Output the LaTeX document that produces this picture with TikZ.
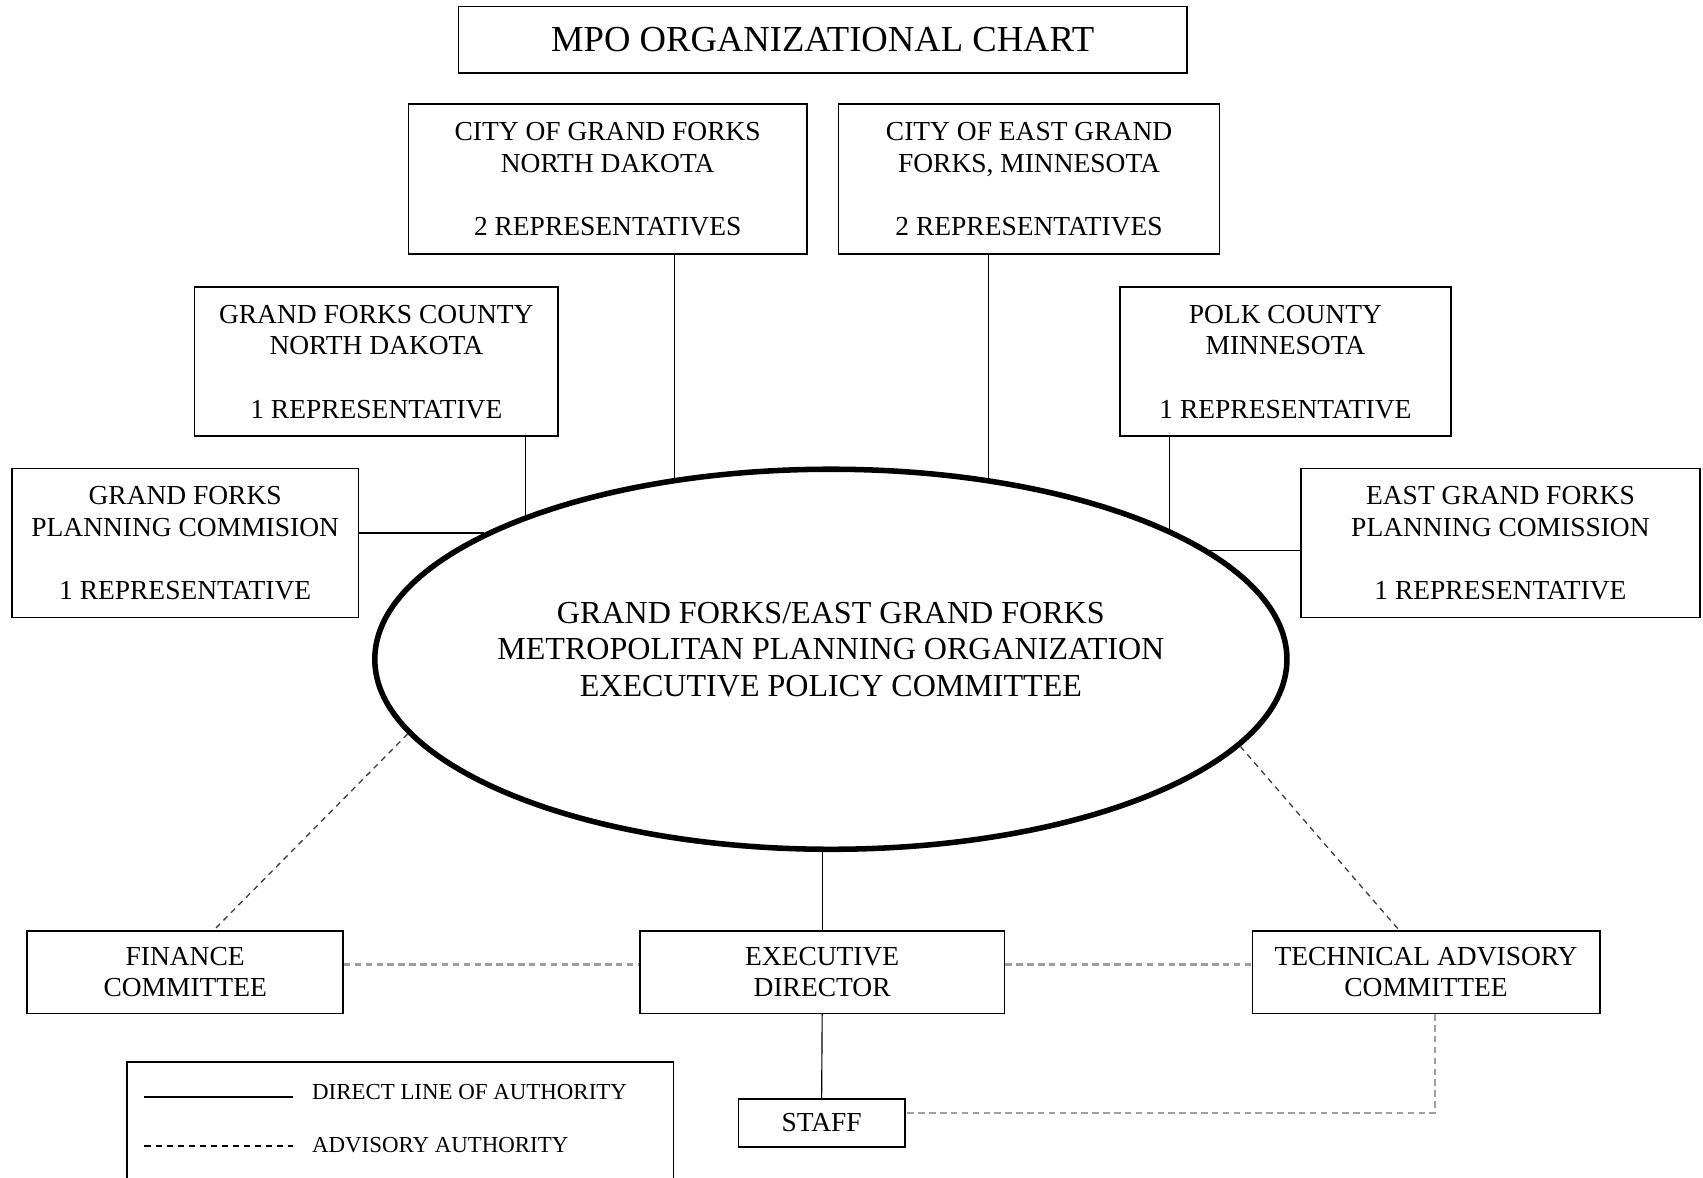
\documentclass[tikz,border=0pt]{standalone}
\usepackage{fontspec}
\setmainfont{Liberation Serif}
\usetikzlibrary{shapes.geometric}
\tikzset{
  box/.style={draw, line width=0.85pt, inner sep=0pt, align=center, font=\fontsize{14.4}{16.6}\selectfont},
  conn/.style={line width=0.6pt},
  adv/.style={draw=black!75, line width=0.7pt, dash pattern=on 3pt off 2.6pt},
  advg/.style={draw=black!38, line width=1.1pt, dash pattern=on 3.4pt off 2.3pt},
  legtext/.style={anchor=west, inner sep=0pt, font=\fontsize{12}{14}\selectfont}
}
\begin{document}
\begin{tikzpicture}[x=0.02cm, y=-0.02cm]
\useasboundingbox (0,0) rectangle (1568,1084);

% title
\node[box, minimum width=13.42cm, minimum height=1.22cm, font=\fontsize{19.2}{22}\selectfont] (title) at (757.5,36.5) {MPO ORGANIZATIONAL CHART};

% member boxes
\node[box, minimum width=7.34cm, minimum height=2.76cm] (cgf) at (559.5,165) {CITY OF GRAND FORKS\\NORTH DAKOTA\\[16.6pt]2 REPRESENTATIVES};
\node[box, minimum width=7.02cm, minimum height=2.76cm] (cegf) at (947.5,165) {CITY OF EAST GRAND\\FORKS, MINNESOTA\\[16.6pt]2 REPRESENTATIVES};
\node[box, minimum width=6.70cm, minimum height=2.74cm] (gfc) at (346.5,333) {GRAND FORKS COUNTY\\NORTH DAKOTA\\[16.6pt]1 REPRESENTATIVE};
\node[box, minimum width=6.10cm, minimum height=2.74cm] (polk) at (1183.5,333) {POLK COUNTY\\MINNESOTA\\[16.6pt]1 REPRESENTATIVE};
\node[box, minimum width=6.38cm, minimum height=2.74cm] (gfpc) at (170.5,500) {GRAND FORKS\\PLANNING COMMISION\\[16.6pt]1 REPRESENTATIVE};
\node[box, minimum width=7.34cm, minimum height=2.74cm] (egfpc) at (1381.5,500) {EAST GRAND FORKS\\PLANNING COMISSION\\[16.6pt]1 REPRESENTATIVE};

% central ellipse
\node[draw, ellipse, line width=2.9pt, inner sep=0pt, minimum width=16.8cm, minimum height=7cm] (epc) at (765,607) {};
\node[align=center, inner sep=0pt, font=\fontsize{16.8}{19}\selectfont] (epctext) at (765,598) {GRAND FORKS/EAST GRAND FORKS\\METROPOLITAN PLANNING ORGANIZATION\\EXECUTIVE POLICY COMMITTEE};

% lower boxes
\node[box, minimum width=5.82cm, minimum height=1.52cm] (fin) at (170.5,895) {FINANCE\\COMMITTEE};
\node[box, minimum width=6.72cm, minimum height=1.52cm] (ed) at (757,895) {EXECUTIVE\\DIRECTOR};
\node[box, minimum width=6.40cm, minimum height=1.52cm] (tac) at (1313,895) {TECHNICAL ADVISORY\\COMMITTEE};
\node[box, minimum width=3.06cm, minimum height=0.88cm] (staff) at (756.5,1034) {STAFF};

% direct lines
\draw[conn] ([xshift=1.23cm]cgf.south) -- ([xshift=1.23cm]cgf.south |- epc.131.2);
\draw[conn] ([xshift=-0.75cm]cegf.south) -- ([xshift=-0.75cm]cegf.south |- epc.48.6);
\draw[conn] ([xshift=2.75cm]gfc.south) -- ([xshift=2.75cm]gfc.south |- epc.155.2);
\draw[conn] ([xshift=-2.13cm]polk.south) -- ([xshift=-2.13cm]polk.south |- epc.20.6);
\draw[conn] (gfpc.east |- epc.160.3) -- (epc.160.3);
\draw[conn] (egfpc.west |- epc.16) -- (epc.16);
\draw[conn] (ed.north) -- (ed.north |- epc.south);
\draw[conn] (ed.south) -- (staff.north);

% advisory lines
\draw[adv] (epc.190.5) -- ([xshift=0.53cm]fin.north);
\draw[adv] (epc.-12.3) -- ([xshift=-0.5cm]tac.north);
\draw[advg] ([yshift=0.14cm]fin.east) -- ([yshift=0.14cm]ed.west);
\draw[advg] ([yshift=0.14cm]ed.east) -- ([yshift=0.14cm]tac.west);
\draw[advg] ([xshift=0.16cm]tac.south) |- ([yshift=0.18cm]staff.east);

% legend
\draw[line width=0.85pt] (117,1095) -- (117,978) -- (620,978) -- (620,1095);
\coordinate (l1a) at (133,1010);
\coordinate (l1b) at (270,1010);
\draw[line width=1pt] (l1a) -- (l1b);
\node[legtext] (l1t) at (287,1005) {DIRECT LINE OF AUTHORITY};
\coordinate (l2a) at (133,1055);
\coordinate (l2b) at (270,1055);
\draw[line width=0.8pt, dash pattern=on 3.2pt off 2.6pt] (l2a) -- (l2b);
\node[legtext] (l2t) at (287,1054) {ADVISORY AUTHORITY};
\end{tikzpicture}
\end{document}
